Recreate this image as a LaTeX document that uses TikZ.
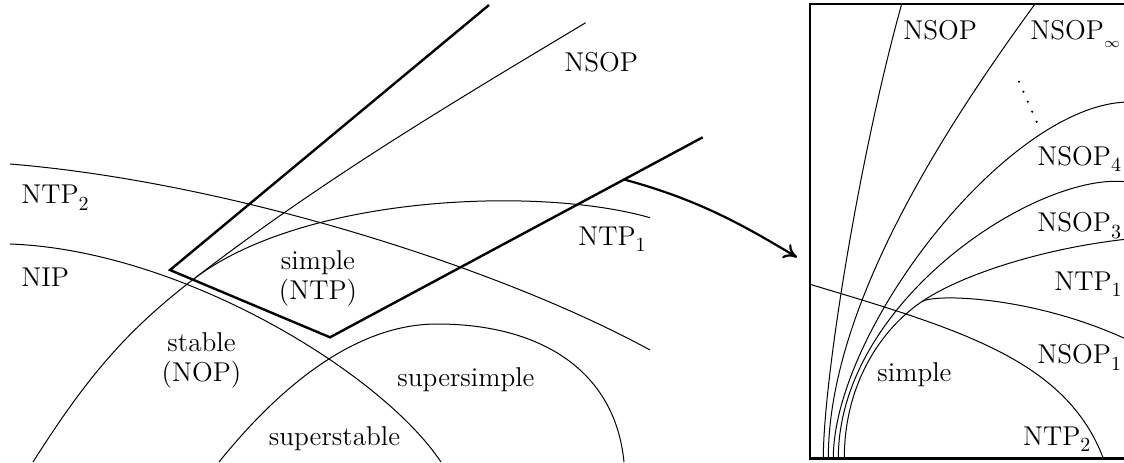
\documentclass[tikz,border=0pt]{standalone}
\usetikzlibrary{arrows.meta,calc}
\newcommand{\lsub}[1]{\raisebox{-0.25em}{\fontsize{10}{10}\selectfont #1}}
\begin{document}
\begin{tikzpicture}[x=0.5pt,y=-0.5pt,
  font=\fontsize{13.6}{16}\selectfont,
  thinline/.style={line width=0.5pt},
  thickline/.style={line width=1.2pt, line join=miter},
  lbl/.style={anchor=base west, inner sep=0pt},
  clbl/.style={anchor=base, inner sep=0pt}]
\useasboundingbox (0,0) rectangle (1124,462);
\clip (0,0) rectangle (1124,462);

% ---------- left diagram ----------
% NTP2 boundary
\draw[thinline] (10,164) .. controls (230,182) and (500,268) .. (650,350);
% NIP boundary
\draw[thinline] (10,244) .. controls (180,250) and (381,372) .. (441,462);
% supersimple / superstable boundary
\coordinate (sstop) at (437,324);
\draw[thinline] (219,462) .. controls (269,400) and (347,324) .. (sstop)
  .. controls (540,324) and (615,370) .. (624,462);
% stable arc + NSOP line
\coordinate (fork) at (195,278);
\draw[thinline] (33,462) .. controls (90,372) and (130,328) .. (fork)
  .. controls (325,178) and (455.7,100.7) .. (585.7,22.7);
% NTP1 (simple) boundary
\draw[thinline] (fork) .. controls (305,195) and (540,186) .. (650,217.7);

% thick frame of the zoomed region
\coordinate (ta) at (489,5);
\coordinate (tb) at (170,270);
\coordinate (tc) at (330,337.3);
\coordinate (td) at (702.7,137.3);
\draw[thickline] (ta) -- (tb) -- (tc) -- (td);

% arrow to the zoom
\coordinate (arrowstart) at ($(tc)!0.789!(td)$);
\coordinate (arrowend) at (797,257.3);
\draw[line width=1.1pt, -{Computer Modern Rightarrow[length=6.5pt,width=8pt]}]
  (arrowstart) .. controls (700,200) and (745,226.3) .. (arrowend);

% labels (left)
\node[lbl] (nsopL) at (564,71) {NSOP};
\node[lbl] (ntptwoL) at (21,203.3) {NTP\lsub{2}};
\node[lbl] (nipL) at (21,286.7) {NIP};
\node[clbl] (simpleL) at (318,269) {simple};
\node[clbl] (ntpL) at (318,299) {(NTP)};
\node[lbl] (ntponeL) at (578,245) {NTP\lsub{1}};
\node[clbl] (stableL) at (201.5,351.7) {stable};
\node[clbl] (nopL) at (201.5,381.7) {(NOP)};
\node[clbl] (supersimpleL) at (466,386) {supersimple};
\node[clbl] (superstableL) at (334.5,445) {superstable};

% ---------- right diagram (zoom) ----------
\draw[thickline] (810,4) rectangle (1140,458.3);
% fan of curves
\draw[thinline] (823.3,458.3) .. controls (823.3,380) and (859.7,154) .. (901.7,4);
\draw[thinline] (828.3,458.3) .. controls (828.3,310) and (940,134) .. (1035,4);
\draw[thinline] (833.3,458.3) .. controls (833.3,330) and (1008,104) .. (1128,102);
\draw[thinline] (838.3,458.3) .. controls (838.3,300) and (1040,170) .. (1128,182);
\coordinate (split) at (921.7,301.7);
\draw[thinline] (844.3,458.3) .. controls (844.3,385) and (880,330) .. (split);
\draw[thinline] (split) .. controls (961.7,274.5) and (1044,248) .. (1128,239);
\draw[thinline] (split) .. controls (934,293.3) and (1034,296) .. (1128,340);
% NTP2 boundary in zoom
\draw[thinline] (810,284.3) .. controls (960,329.3) and (1066,360) .. (1103.3,458.3);
% dots
\foreach \p in {(1019,81.7),(1023.4,91.7),(1027.8,101.7),(1032.2,111.7),(1036.6,121.7)}
  \fill \p circle[radius=1.2];

% labels (right)
\node[lbl] (rnsop) at (903,39.3) {NSOP};
\node[lbl] (rnsopinf) at (1030,39.3) {NSOP\raisebox{-0.3em}{\fontsize{7}{7}\selectfont$\infty$}};
\node[lbl] (rnsopfour) at (1037,165) {NSOP\lsub{4}};
\node[lbl] (rnsopthree) at (1037,231.7) {NSOP\lsub{3}};
\node[lbl] (rntpone) at (1054,290) {NTP\lsub{1}};
\node[lbl] (rnsopone) at (1037,363.3) {NSOP\lsub{1}};
\node[lbl] (rsimple) at (877,381.7) {simple};
\node[lbl] (rntptwo) at (1022.7,445) {NTP\lsub{2}};
\end{tikzpicture}
\end{document}
